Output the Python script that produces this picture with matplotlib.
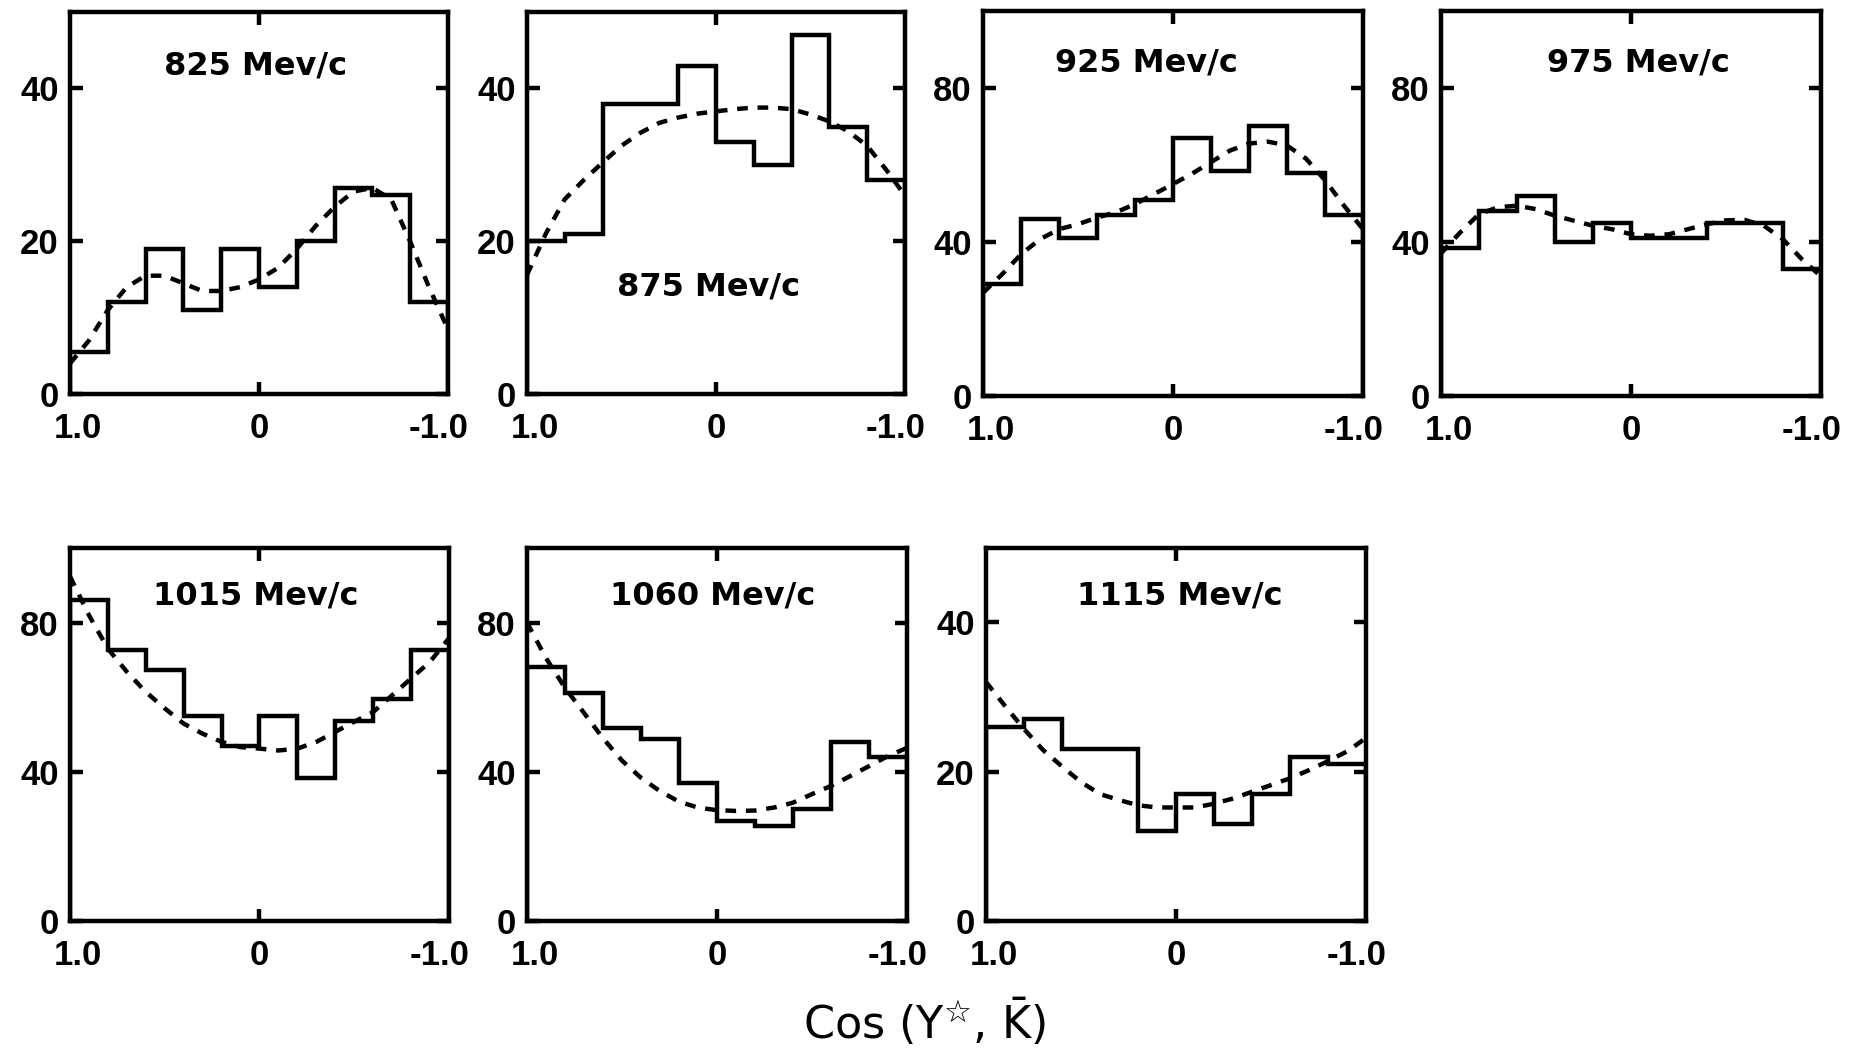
"""Angular distributions cos(Y*, K-bar) at seven beam momenta."""
import matplotlib
matplotlib.use("Agg")
import matplotlib.pyplot as plt
from matplotlib.transforms import ScaledTranslation

# bin edges and fit-curve sample points, read left (1.0) to right (-1.0)
bin_edges = [1.0, 0.8, 0.6, 0.4, 0.2, 0.0, -0.2, -0.4, -0.6, -0.8, -1.0]
fit_x = [1.0, 0.9, 0.8, 0.7, 0.6, 0.5, 0.4, 0.3, 0.2, 0.1, 0.0,
         -0.1, -0.2, -0.3, -0.4, -0.5, -0.6, -0.7, -0.8, -0.9, -1.0]

labels = ["825 Mev/c", "875 Mev/c", "925 Mev/c", "975 Mev/c",
          "1015 Mev/c", "1060 Mev/c", "1115 Mev/c"]

counts_825 = [5.5, 12, 19, 11, 19, 14, 20, 27, 26, 12]
counts_875 = [20, 21, 38, 38, 43, 33, 30, 47, 35, 28]
counts_925 = [29, 46, 41, 47, 51, 67, 58.5, 70, 58, 47]
counts_975 = [38.5, 48, 52, 40, 45, 41, 41, 45, 45, 33]
counts_1015 = [86, 72.5, 67.3, 55, 47, 55, 38.4, 53.6, 59.6, 72.6]
counts_1060 = [68, 61, 51.6, 48.9, 36.9, 26.8, 25.4, 30, 48, 44]
counts_1115 = [26, 27, 23, 23, 12, 17, 13, 17, 22, 21]

fit_825 = [4, 7, 11, 14, 15.5, 15.5, 14.5, 13.5, 13.5, 14, 15,
           16.5, 19, 22, 24.5, 26.5, 27, 25.5, 20, 14, 8.5]
fit_875 = [15.6, 21, 25.5, 28, 30.3, 32.5, 34.2, 35.5, 36.2, 36.7, 37,
           37.3, 37.5, 37.5, 37.3, 36.6, 35.7, 34.4, 32.5, 29.4, 26]
fit_925 = [26.8, 31.6, 36.8, 40.7, 43.3, 44.6, 46.3, 47.7, 49.8, 52.4, 55,
           57.7, 60.7, 63.7, 65.5, 66, 65, 61.6, 56, 49.4, 43.3]
fit_975 = [37, 42.4, 47.2, 49, 49.4, 48.5, 46.8, 45.5, 44.2, 43.3, 42,
           41.6, 42, 43.3, 44.6, 45.6, 45.7, 44.2, 40.7, 35.5, 31.1]
fit_1015 = [92.4, 82, 73, 66.8, 61.4, 57, 52.9, 50.2, 48, 46.6, 46.2,
            45.7, 46.2, 48, 50.7, 53.4, 56, 60.5, 65, 69.5, 75.8]
fit_1060 = [80, 70.5, 62.5, 55.8, 49, 43, 38.4, 34.8, 32, 30.4, 29.7,
            29.5, 29.6, 30.4, 31.7, 34, 36.2, 38.8, 41.5, 44.2, 46.4]
fit_1115 = [32, 28.8, 25.7, 22.9, 20.7, 18.6, 17, 16.2, 15.5, 15.2, 15.2,
            15.2, 15.7, 16.4, 17.3, 18.2, 19.1, 20.2, 21.4, 22.7, 24.5]

y_max = [50, 50, 100, 100, 100, 100, 50]
y_ticks = [[0, 20, 40], [0, 20, 40], [0, 40, 80], [0, 40, 80],
           [0, 40, 80], [0, 40, 80], [0, 20, 40]]

all_counts = [counts_825, counts_875, counts_925, counts_975,
              counts_1015, counts_1060, counts_1115]
all_fits = [fit_825, fit_875, fit_925, fit_975, fit_1015, fit_1060, fit_1115]

# axes rectangles in figure fractions, and label spot inside each panel
panel_rects = [
    [0.0376, 0.625, 0.2032, 0.3635],
    [0.2833, 0.625, 0.2032, 0.3635],
    [0.5285, 0.623, 0.2043, 0.3670],
    [0.7747, 0.623, 0.2043, 0.3670],
    [0.0376, 0.1237, 0.2038, 0.3550],
    [0.2833, 0.1237, 0.2043, 0.3550],
    [0.5301, 0.1237, 0.2043, 0.3553],
]
label_pos = [(0.49, 0.86), (0.48, 0.28), (0.43, 0.865), (0.52, 0.865),
             (0.49, 0.87), (0.49, 0.87), (0.51, 0.87)]

LW = 3.2
TICK_FAMILY = ["Liberation Sans", "DejaVu Sans"]

fig = plt.figure(figsize=(18.6, 10.51), dpi=100, facecolor="white")

for i in range(7):
    ax = fig.add_axes(panel_rects[i])
    ax.set_xlim(1.0, -1.0)
    ax.set_ylim(0, y_max[i])

    ax.stairs(all_counts[i], bin_edges, color="black", linewidth=LW)
    ax.plot(fit_x, all_fits[i], color="black", linewidth=LW,
            linestyle=(0, (2.4, 2.2)))

    for spine in ax.spines.values():
        spine.set_linewidth(LW)

    ax.set_xticks([1.0, 0, -1.0])
    ax.set_xticklabels(["1.0", "0", "-1.0"])
    ax.set_yticks(y_ticks[i])
    ax.set_yticklabels([str(v) for v in y_ticks[i]])
    ax.tick_params(axis="both", direction="in", length=9, width=LW,
                   labelsize=25, top=True, right=True)
    ax.tick_params(axis="x", pad=13)
    ax.tick_params(axis="y", pad=8)
    for lab in ax.get_xticklabels() + ax.get_yticklabels():
        lab.set_fontfamily(TICK_FAMILY)
        lab.set_fontweight("bold")
    # the end labels sit a little inside the frame in the original
    xlabs = ax.get_xticklabels()
    xlabs[0].set_transform(xlabs[0].get_transform()
                           + ScaledTranslation(0.08, 0, fig.dpi_scale_trans))
    xlabs[2].set_transform(xlabs[2].get_transform()
                           + ScaledTranslation(-0.09, 0, fig.dpi_scale_trans))
    # end ticks sit on the spines; hide them so only the centre mark shows
    for t in ax.xaxis.get_major_ticks():
        if t.get_loc() != 0:
            t.tick1line.set_visible(False)
            t.tick2line.set_visible(False)

    ax.text(label_pos[i][0], label_pos[i][1], labels[i], transform=ax.transAxes,
            ha="center", va="center", fontsize=23, fontweight="bold",
            family=["DejaVu Sans"])

fig.text(0.497, 0.028, "Cos (Y$^{\u2606}$, $\\bar{\\mathrm{K}}$)",
         ha="center", va="center", fontsize=32,
         family=["DejaVu Sans"])

fig.savefig("out.png", dpi=100, facecolor="white")
